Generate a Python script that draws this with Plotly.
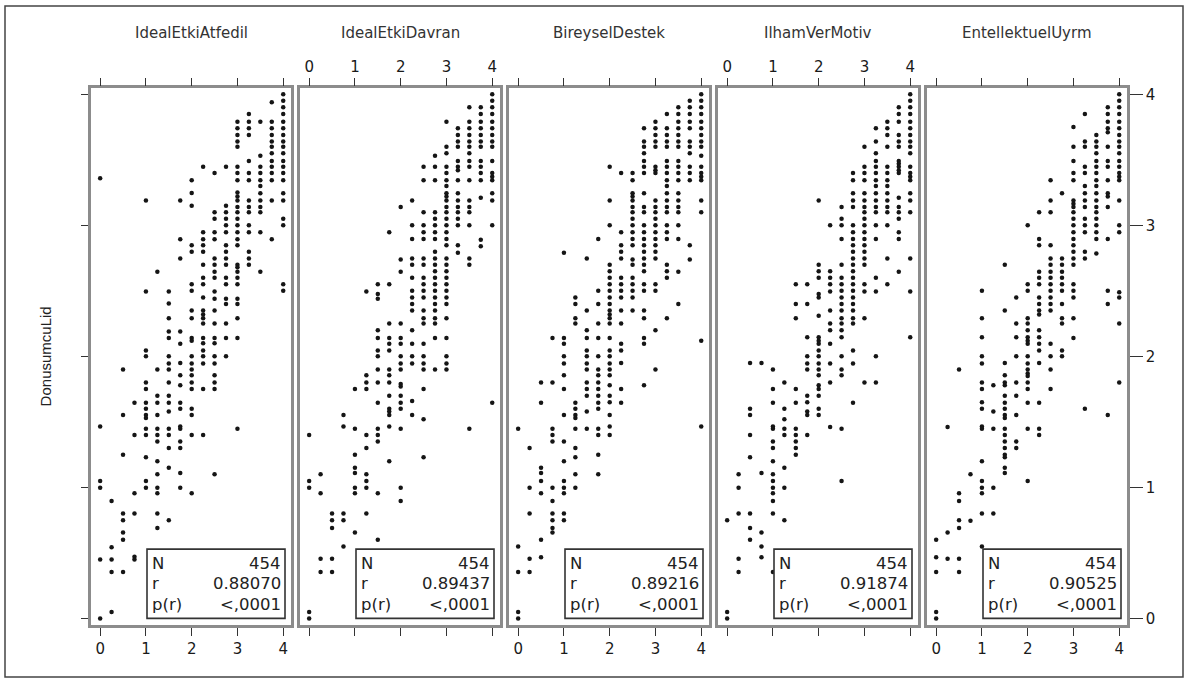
import plotly.graph_objects as go

# ---------------- data ----------------
titles = ["IdealEtkiAtfedil", "IdealEtkiDavran", "BireyselDestek", "IlhamVerMotiv", "EntellektuelUyrm"]
n_obs = [454, 454, 454, 454, 454]
r_vals = ["0.88070", "0.89437", "0.89216", "0.91874", "0.90525"]
p_vals = ["<,0001", "<,0001", "<,0001", "<,0001", "<,0001"]
x_ticks = [0, 1, 2, 3, 4]
y_ticks = [0, 1, 2, 3, 4]

# DonusumcuLid values grouped by the x value of each panel
atfedil = {
    0: [3.36, 1.465, 1.048, 0.998, 0.45, 0.0],
    0.25: [0.896, 0.543, 0.45, 0.354, 0.05],
    0.5: [1.90, 1.553, 1.25, 0.80, 0.75, 0.656, 0.60, 0.354],
    0.75: [1.646, 1.40, 0.955, 0.80, 0.47, 0.45],
    1: [3.19, 2.495, 2.045, 2.0, 1.80, 1.75, 1.646, 1.60, 1.553, 1.53, 1.447, 1.40, 1.23, 1.048, 0.998],
    1.25: [2.646, 1.90, 1.70, 1.646, 1.553, 1.447, 1.40, 1.35, 1.20, 1.10, 0.998, 0.955, 0.80, 0.69],
    1.5: [2.495, 2.404, 2.29, 2.19, 2.14, 2.0, 1.945, 1.90, 1.80, 1.70, 1.646, 1.58, 1.447, 1.40, 1.30, 1.15, 0.75],
    1.75: [3.19, 2.894, 2.747, 2.19, 2.096, 1.95, 1.856, 1.78, 1.646, 1.60, 1.465, 1.447, 1.35, 1.30, 1.11, 0.998],
    2: [3.343, 3.247, 3.149, 2.848, 2.798, 2.55, 2.5, 2.35, 2.29, 2.14, 2.12, 2.0, 1.945, 1.90, 1.856, 1.80, 1.75, 1.60, 1.553, 1.40, 0.955],
    2.25: [3.447, 2.947, 2.894, 2.848, 2.798, 2.70, 2.60, 2.55, 2.45, 2.35, 2.32, 2.29, 2.25, 2.14, 2.10, 2.045, 2.0, 1.945, 1.75, 1.40],
    2.5: [3.40, 3.10, 3.05, 2.947, 2.894, 2.747, 2.70, 2.646, 2.60, 2.495, 2.44, 2.35, 2.25, 2.14, 2.10, 2.0, 1.945, 1.856, 1.80, 1.75, 1.10],
    2.75: [3.447, 3.149, 3.10, 3.05, 3.0, 2.947, 2.848, 2.798, 2.747, 2.70, 2.6, 2.55, 2.44, 2.40, 2.25, 2.14, 2.0],
    3: [3.79, 3.74, 3.69, 3.64, 3.60, 3.447, 3.40, 3.343, 3.25, 3.22, 3.19, 3.14, 3.10, 3.05, 3.0, 2.947, 2.894, 2.848, 2.70, 2.68, 2.646, 2.6, 2.55, 2.44, 2.40, 2.29, 2.14, 1.447],
    3.25: [3.85, 3.79, 3.74, 3.69, 3.49, 3.40, 3.343, 3.19, 3.14, 3.10, 3.0, 2.947, 2.798, 2.747, 2.70],
    3.5: [3.79, 3.53, 3.447, 3.40, 3.343, 3.30, 3.245, 3.19, 3.14, 3.10, 2.947, 2.646],
    3.75: [3.94, 3.79, 3.74, 3.69, 3.64, 3.60, 3.55, 3.49, 3.447, 3.40, 3.343, 3.19, 2.894],
    4: [4.0, 3.95, 3.90, 3.85, 3.79, 3.74, 3.69, 3.64, 3.60, 3.55, 3.49, 3.447, 3.40, 3.343, 3.245, 3.19, 3.05, 3.0, 2.55, 2.50],
}

davran = {
    0: [1.40, 1.048, 0.998, 0.05, 0.0],
    0.25: [1.10, 0.955, 0.455, 0.354],
    0.5: [0.80, 0.75, 0.69, 0.455, 0.354],
    0.75: [1.553, 1.465, 0.80, 0.75, 0.55],
    1: [1.75, 1.447, 1.25, 1.15, 1.11, 0.998, 0.955, 0.656],
    1.25: [2.495, 1.856, 1.80, 1.75, 1.40, 1.30, 1.10, 1.048, 0.998, 0.80],
    1.5: [2.55, 2.475, 2.44, 2.20, 2.14, 2.045, 2.0, 1.90, 1.80, 1.646, 1.447, 1.40, 1.35, 0.955, 0.60],
    1.75: [2.947, 2.55, 2.25, 2.14, 2.096, 2.045, 1.90, 1.856, 1.80, 1.70, 1.60, 1.58, 1.553, 1.465, 1.20],
    2: [3.14, 2.74, 2.646, 2.25, 2.14, 2.096, 2.0, 1.945, 1.90, 1.79, 1.77, 1.70, 1.646, 1.60, 1.447, 0.998, 0.896],
    2.25: [3.19, 3.0, 2.896, 2.747, 2.70, 2.60, 2.50, 2.45, 2.40, 2.35, 2.20, 2.096, 2.0, 1.945, 1.66, 1.553],
    2.5: [3.447, 3.343, 3.10, 3.0, 2.947, 2.896, 2.747, 2.70, 2.60, 2.55, 2.50, 2.45, 2.35, 2.29, 2.25, 2.096, 2.0, 1.945, 1.90, 1.75, 1.52, 1.23],
    2.75: [3.53, 3.447, 3.343, 3.10, 3.05, 3.0, 2.947, 2.896, 2.798, 2.747, 2.70, 2.65, 2.60, 2.55, 2.50, 2.45, 2.40, 2.35, 2.29, 2.25, 2.14, 1.90],
    3: [3.79, 3.60, 3.55, 3.447, 3.40, 3.343, 3.30, 3.245, 3.22, 3.19, 3.14, 3.10, 3.05, 3.0, 2.947, 2.896, 2.848, 2.747, 2.70, 2.65, 2.60, 2.55, 2.50, 2.45, 2.40, 2.29, 2.14, 2.0, 1.945, 1.90],
    3.25: [3.74, 3.69, 3.64, 3.60, 3.49, 3.447, 3.42, 3.343, 3.245, 3.19, 3.14, 3.10, 3.05, 3.0, 2.848, 2.79],
    3.5: [3.90, 3.79, 3.74, 3.69, 3.64, 3.60, 3.55, 3.49, 3.447, 3.343, 3.19, 3.14, 3.10, 3.0, 2.747, 2.70, 1.447],
    3.75: [3.90, 3.85, 3.79, 3.74, 3.69, 3.64, 3.60, 3.49, 3.447, 3.40, 3.343, 3.21, 2.89, 2.84],
    4: [4.0, 3.95, 3.90, 3.85, 3.79, 3.74, 3.69, 3.64, 3.60, 3.49, 3.40, 3.37, 3.343, 3.245, 3.19, 3.0, 1.646],
}

destek = {
    0: [1.447, 0.55, 0.354, 0.05, 0.0],
    0.25: [1.30, 0.998, 0.80, 0.455, 0.354],
    0.5: [1.80, 1.646, 1.15, 1.11, 1.048, 0.955, 0.60, 0.467],
    0.75: [2.14, 1.80, 1.447, 1.40, 1.35, 0.998, 0.896, 0.80, 0.75, 0.69, 0.656],
    1: [2.79, 2.14, 2.096, 2.0, 1.945, 1.856, 1.75, 1.553, 1.35, 1.20, 1.048, 0.998, 0.955, 0.80, 0.75],
    1.25: [2.45, 2.40, 2.29, 2.25, 1.646, 1.60, 1.553, 1.53, 1.447, 1.30, 1.23, 1.10, 0.998],
    1.5: [2.747, 2.35, 2.20, 2.14, 2.045, 2.0, 1.945, 1.90, 1.80, 1.75, 1.70, 1.58, 1.447],
    1.75: [2.896, 2.50, 2.40, 2.25, 2.14, 2.0, 1.90, 1.856, 1.80, 1.75, 1.70, 1.646, 1.60, 1.447, 1.40, 1.25, 1.10],
    2: [3.447, 3.19, 3.0, 2.70, 2.65, 2.60, 2.55, 2.50, 2.45, 2.40, 2.35, 2.32, 2.29, 2.25, 2.14, 2.045, 2.0, 1.945, 1.90, 1.856, 1.78, 1.70, 1.65, 1.553, 1.465, 1.40],
    2.25: [3.40, 2.947, 2.848, 2.798, 2.747, 2.60, 2.55, 2.50, 2.45, 2.35, 2.25, 2.096, 2.045, 1.95, 1.75, 1.646],
    2.5: [3.40, 3.343, 3.245, 3.22, 3.19, 3.14, 3.10, 3.05, 3.0, 2.947, 2.896, 2.848, 2.74, 2.70, 2.60, 2.55, 2.50, 2.45, 2.35],
    2.75: [3.74, 3.64, 3.60, 3.55, 3.49, 3.447, 3.40, 3.245, 3.14, 3.10, 3.0, 2.947, 2.896, 2.848, 2.798, 2.747, 2.70, 2.65, 2.55, 2.50, 2.35, 2.29, 2.14, 2.096, 1.78],
    3: [3.79, 3.74, 3.69, 3.64, 3.60, 3.447, 3.42, 3.40, 3.19, 3.14, 3.10, 3.05, 3.0, 2.947, 2.896, 2.848, 2.798, 2.747, 2.55, 2.50, 2.20, 1.90],
    3.25: [3.85, 3.74, 3.69, 3.64, 3.60, 3.49, 3.447, 3.40, 3.343, 3.30, 3.245, 3.19, 3.14, 3.10, 3.0, 2.947, 2.896, 2.70, 2.65, 2.60, 2.29],
    3.5: [3.90, 3.85, 3.79, 3.74, 3.69, 3.64, 3.60, 3.49, 3.447, 3.40, 3.343, 3.245, 3.19, 3.14, 3.10, 3.0, 2.896, 2.646, 2.40],
    3.75: [3.95, 3.90, 3.85, 3.79, 3.74, 3.64, 3.60, 3.55, 3.447, 3.40, 3.343, 2.848, 2.74],
    4: [4.0, 3.95, 3.90, 3.85, 3.79, 3.74, 3.69, 3.64, 3.60, 3.53, 3.447, 3.40, 3.37, 3.343, 3.19, 3.10, 2.12, 1.465],
}

motiv = {
    0: [0.75, 0.05, 0.0],
    0.25: [1.10, 0.998, 0.80, 0.455, 0.354],
    0.5: [1.95, 1.60, 1.553, 1.40, 1.23, 0.80, 0.69, 0.60],
    0.75: [1.95, 1.11, 0.656, 0.55, 0.467],
    1: [1.90, 1.75, 1.646, 1.465, 1.447, 1.35, 1.30, 1.20, 1.10, 1.048, 0.998, 0.955, 0.896, 0.80, 0.354],
    1.25: [1.80, 1.60, 1.52, 1.447, 1.40, 1.15, 0.998, 0.75],
    1.5: [2.55, 2.40, 2.29, 1.75, 1.646, 1.447, 1.40, 1.35, 1.30, 1.25],
    1.75: [2.55, 2.40, 2.146, 2.0, 1.945, 1.90, 1.70, 1.65, 1.58, 1.553, 1.40],
    2: [3.19, 2.70, 2.65, 2.60, 2.475, 2.45, 2.31, 2.146, 2.12, 2.096, 2.045, 2.0, 1.945, 1.90, 1.856, 1.78, 1.75, 1.70, 1.60, 1.553],
    2.25: [3.0, 2.65, 2.60, 2.55, 2.495, 2.35, 2.25, 2.20, 2.096, 1.945, 1.80, 1.46],
    2.5: [3.14, 3.05, 3.0, 2.896, 2.70, 2.60, 2.55, 2.50, 2.45, 2.40, 2.35, 2.29, 2.25, 2.20, 2.146, 2.0, 1.90, 1.856, 1.447, 1.048],
    2.75: [3.40, 3.343, 3.245, 3.19, 3.14, 3.0, 2.947, 2.896, 2.848, 2.798, 2.747, 2.70, 2.65, 2.60, 2.55, 2.50, 2.45, 2.40, 2.35, 2.29, 2.25, 2.045, 1.945, 1.646],
    3: [3.60, 3.447, 3.40, 3.343, 3.245, 3.19, 3.14, 3.10, 3.05, 3.0, 2.947, 2.896, 2.848, 2.798, 2.747, 2.70, 2.55, 2.495, 2.29, 1.80],
    3.25: [3.74, 3.64, 3.55, 3.49, 3.447, 3.40, 3.343, 3.30, 3.245, 3.19, 3.14, 3.10, 3.0, 2.896, 2.60, 2.495, 2.0, 1.80],
    3.5: [3.79, 3.74, 3.69, 3.60, 3.447, 3.40, 3.343, 3.30, 3.245, 3.19, 3.14, 3.10, 3.0, 2.747, 2.55],
    3.75: [3.90, 3.85, 3.79, 3.69, 3.64, 3.60, 3.49, 3.47, 3.447, 3.42, 3.40, 3.21, 3.14, 3.10, 3.05, 2.947, 2.896, 2.646],
    4: [4.0, 3.95, 3.90, 3.85, 3.79, 3.74, 3.69, 3.64, 3.60, 3.55, 3.447, 3.40, 3.37, 3.343, 3.245, 3.19, 3.10, 2.747, 2.495, 2.146],
}

uyrm = {
    0: [0.60, 0.467, 0.354, 0.05, 0.0],
    0.25: [1.46, 0.656, 0.455],
    0.5: [1.90, 0.955, 0.896, 0.75, 0.69, 0.455, 0.354],
    0.75: [1.10, 0.745],
    1: [2.50, 2.29, 2.146, 2.0, 1.945, 1.80, 1.75, 1.65, 1.60, 1.465, 1.447, 1.20, 1.048, 0.998, 0.955, 0.80, 0.55],
    1.25: [1.78, 1.58, 1.447, 0.998, 0.80],
    1.5: [2.70, 2.35, 1.95, 1.856, 1.80, 1.78, 1.70, 1.646, 1.60, 1.553, 1.53, 1.447, 1.40, 1.35, 1.30, 1.25, 1.23, 1.15, 1.11],
    1.75: [2.45, 2.25, 2.146, 2.0, 1.80, 1.70, 1.553, 1.35, 1.30],
    2: [3.0, 2.55, 2.50, 2.29, 2.25, 2.20, 2.146, 2.12, 2.096, 2.0, 1.945, 1.90, 1.87, 1.85, 1.80, 1.75, 1.646, 1.447, 1.048],
    2.25: [3.10, 2.896, 2.848, 2.646, 2.60, 2.55, 2.45, 2.40, 2.35, 2.32, 2.20, 2.146, 2.096, 2.045, 1.95, 1.646, 1.447, 1.40],
    2.5: [3.343, 3.19, 3.10, 2.848, 2.747, 2.70, 2.646, 2.60, 2.55, 2.50, 2.45, 2.40, 2.35, 2.096, 2.0, 1.90, 1.75],
    2.75: [3.245, 2.747, 2.70, 2.646, 2.60, 2.55, 2.50, 2.40, 2.29, 2.25, 2.045, 2.0],
    3: [3.75, 3.60, 3.49, 3.40, 3.343, 3.19, 3.165, 3.14, 3.10, 3.05, 3.0, 2.947, 2.896, 2.848, 2.798, 2.747, 2.70, 2.55, 2.50, 2.45, 2.29, 2.14],
    3.25: [3.85, 3.64, 3.60, 3.447, 3.40, 3.30, 3.245, 3.19, 3.14, 3.05, 3.0, 2.947, 2.798, 2.747, 1.60],
    3.5: [3.69, 3.64, 3.60, 3.55, 3.49, 3.447, 3.40, 3.343, 3.30, 3.245, 3.19, 3.14, 3.10, 3.05, 3.0, 2.947, 2.896, 2.785],
    3.75: [3.90, 3.85, 3.79, 3.74, 3.71, 3.60, 3.49, 3.447, 3.343, 3.245, 3.22, 3.14, 2.896, 2.50, 2.40, 1.553],
    4: [4.0, 3.95, 3.90, 3.85, 3.79, 3.74, 3.69, 3.64, 3.60, 3.55, 3.49, 3.447, 3.40, 3.37, 3.343, 3.19, 3.0, 2.947, 2.49, 2.45, 2.25, 1.80],
}

panel_data = [atfedil, davran, destek, motiv, uyrm]
y_title = "DonusumcuLid"

# ---------------- layout geometry (pixels of the 1184x681 page) ----------------
W, H = 1184, 681
panel_left = [91, 300, 509, 718, 927]
panel_w = 200
plot_top, plot_bot = 86, 627

def px(x):
    return x / W

def py(y):
    return 1 - y / H

FONT = "DejaVu Sans, Arial, sans-serif"
FRAME = "#8c8c8c"
TICK = "#333333"

fig = go.Figure()
layout = dict(
    width=W, height=H,
    margin=dict(l=0, r=0, t=0, b=0),
    paper_bgcolor="white", plot_bgcolor="white",
    showlegend=False,
)

annotations = []
shapes = []

for i, (title, data) in enumerate(zip(titles, panel_data)):
    k = i + 1
    xn = "x" if k == 1 else f"x{k}"
    yn = "y" if k == 1 else f"y{k}"
    xs, ys = [], []
    for xv, yl in data.items():
        for yv in yl:
            xs.append(xv)
            ys.append(yv)
    fig.add_trace(go.Scatter(
        x=xs, y=ys, mode="markers",
        marker=dict(symbol="circle", size=4.5, color="#151515"),
        xaxis=xn, yaxis=yn, hoverinfo="skip",
    ))
    L = panel_left[i]
    xa = dict(
        domain=[px(L), px(L + panel_w)],
        range=[-0.2, 4.17],
        tickvals=x_ticks, ticktext=[str(t) for t in x_ticks],
        ticks="outside", ticklen=8, tickwidth=1.3, tickcolor=TICK,
        showline=True, linecolor=FRAME, linewidth=2.5,
        mirror="allticks", showgrid=False, zeroline=False,
        side="top" if k in (2, 4) else "bottom",
        anchor=yn, fixedrange=True,
        tickfont=dict(family=FONT, size=15, color="#1a1a1a"),
    )
    ya = dict(
        domain=[py(plot_bot), py(plot_top)],
        range=[-0.053, 4.045],
        tickvals=y_ticks, ticktext=[str(t) for t in y_ticks],
        showline=True, linecolor=FRAME, linewidth=2.5, mirror=True,
        showgrid=False, zeroline=False, anchor=xn, fixedrange=True,
        tickfont=dict(family=FONT, size=15, color="#1a1a1a"),
    )
    if k == 1:
        ya.update(ticks="outside", ticklen=7, tickwidth=1.3, tickcolor=TICK,
                  showticklabels=False)
    elif k == 5:
        ya.update(side="right", ticks="outside", ticklen=13, tickwidth=1.3,
                  tickcolor=TICK, showticklabels=True)
    else:
        ya.update(ticks="", showticklabels=False)
    layout["xaxis" if k == 1 else f"xaxis{k}"] = xa
    layout["yaxis" if k == 1 else f"yaxis{k}"] = ya

    # column title
    annotations.append(dict(
        text=title, x=px(L + panel_w / 2), y=py(30), xref="paper", yref="paper",
        showarrow=False, xanchor="center", yanchor="middle",
        font=dict(family=FONT, size=15, color="#333333"),
    ))

    # statistics inset
    shapes.append(dict(
        type="rect", xref=f"{xn} domain", yref=f"{yn} domain",
        x0=0.28, x1=0.97, y0=0.013, y1=0.142,
        line=dict(color="#333333", width=1.6), fillcolor="white", layer="above",
    ))
    rows = [("N", str(n_obs[i])), ("r", r_vals[i]), ("p(r)", p_vals[i])]
    row_y = [0.1146, 0.0776, 0.0388]
    for (lab, val), ry in zip(rows, row_y):
        annotations.append(dict(
            text=lab, x=0.295, y=ry, xref=f"{xn} domain", yref=f"{yn} domain",
            showarrow=False, xanchor="left", yanchor="middle",
            font=dict(family=FONT, size=16.5, color="#222222"),
        ))
        annotations.append(dict(
            text=val, x=0.958, y=ry, xref=f"{xn} domain", yref=f"{yn} domain",
            showarrow=False, xanchor="right", yanchor="middle",
            font=dict(family=FONT, size=16.5, color="#222222"),
        ))

# y-axis title
annotations.append(dict(
    text=y_title, x=px(45), y=py(356), xref="paper", yref="paper",
    showarrow=False, textangle=-90, xanchor="center", yanchor="middle",
    font=dict(family="Liberation Sans Narrow, Arial Narrow, Liberation Sans, sans-serif",
              size=15, color="#222222"),
))

# outer frame
shapes.append(dict(
    type="rect", xref="paper", yref="paper",
    x0=px(5), x1=px(1183), y0=py(679), y1=py(3),
    line=dict(color="#444444", width=1.5), fillcolor="rgba(0,0,0,0)", layer="below",
))

layout["annotations"] = annotations
layout["shapes"] = shapes
fig.update_layout(**layout)

fig.write_html("out.html", config={"displayModeBar": False},
               post_script="document.body.style.margin='0';")
